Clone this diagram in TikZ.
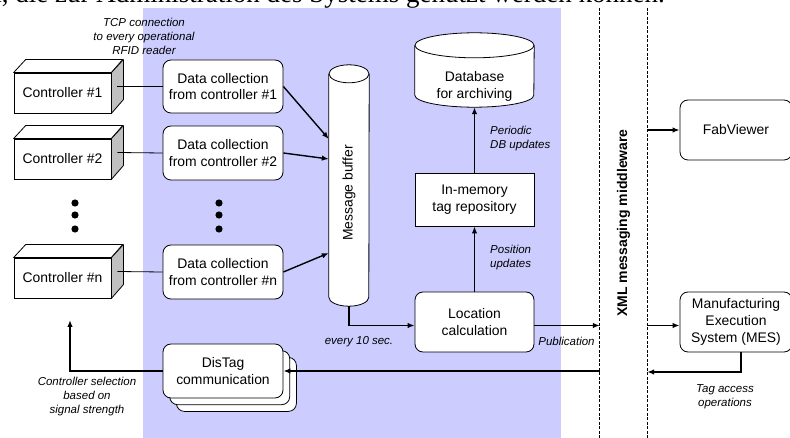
\documentclass[tikz,border=0pt]{standalone}
\usepackage{fontspec}
\setmainfont{Liberation Sans}
\newfontfamily\serifpage{Liberation Serif}
\usetikzlibrary{arrows.meta,calc}
\definecolor{lav}{RGB}{204,204,255}
\definecolor{sidegray}{RGB}{192,192,192}
\begin{document}
\begin{tikzpicture}[x=1pt,y=-1pt,
  box/.style={draw,line width=0.8pt,fill=white,align=center,inner sep=0pt,font=\fontsize{13.9}{16.8}\selectfont},
  rbox/.style={box,rounded corners=8pt},
  txt/.style={align=center,inner sep=0pt,font=\fontsize{13.9}{16.8}\selectfont},
  lbl/.style={font=\fontsize{11.5}{14}\itshape\selectfont,inner sep=0pt},
  arr/.style={line width=1.4pt,-{Latex[length=7pt,width=5.5pt]}},
  thinline/.style={line width=0.8pt},
  mwline/.style={line width=1.2pt,dash pattern=on 3pt off 1.5pt},
  face/.style={line width=0.8pt,line join=round},
]
\useasboundingbox (0,0) rectangle (790,438);
\clip (0,0) rectangle (790,438);

% cut-off line of page text
\node[anchor=base east,inner sep=0pt,font=\serifpage\fontsize{27}{30}\selectfont] (toptext) at (665,2.5) {n, die zur Administration des Systems genutzt werden können.};

% shaded region
\fill[lav] (143,8) rectangle (561,438);

% middleware band
\node[inner sep=0pt,minimum width=47pt,minimum height=430pt] (mw) at (623.5,223) {};
\draw[mwline] (mw.north west) -- (mw.south west);
\draw[mwline] (mw.north east) -- (mw.south east);
\node[rotate=90,inner sep=0pt,font=\bfseries\fontsize{14}{17}\selectfont] (mwtext) at (mw.center) {XML messaging middleware};

% controllers
\foreach \n/\lab/\y in {c1/Controller \#1/93, c2/Controller \#2/159, cn/Controller \#n/278}{
  \node[box,minimum width=97pt,minimum height=40pt] (\n) at (62.5,\y) {\lab};
  \draw[face,fill=white] (\n.north west) -- ++(12,-13) -- ++(97,0) -- (\n.north east) -- cycle;
  \draw[face,fill=sidegray] (\n.north east) -- ++(12,-13) -- ++(0,40) -- (\n.south east) -- cycle;
  \coordinate (\n s) at ($(\n.east)+(6pt,6.5pt)$);
}

% data collection boxes
\node[rbox,minimum width=120pt,minimum height=53pt] (d1) at (223,86.5) {Data collection\\from controller \#1};
\node[rbox,minimum width=120pt,minimum height=54pt] (d2) at (223,153) {Data collection\\from controller \#2};
\node[rbox,minimum width=120pt,minimum height=54pt] (dn) at (223,272) {Data collection\\from controller \#n};

% dots
\foreach \y in {203,215,229}{
  \fill (75,\y) circle[radius=3.6pt];
  \fill (219,\y) circle[radius=3.6pt];
}

% message buffer cylinder
\node[inner sep=0pt,minimum width=40pt,minimum height=241pt] (buf) at (349,185.5) {};
\path[draw,fill=white,line width=0.8pt] ([yshift=-9pt]buf.north west) -- ([yshift=9pt]buf.south west)
   arc[start angle=180,end angle=360,x radius=20pt,y radius=9pt] -- ([yshift=-9pt]buf.north east);
\draw[fill=white,line width=0.8pt] ([yshift=-9pt]buf.north) ellipse[x radius=20pt,y radius=9pt];
\node[txt,rotate=90] (buftext) at ([yshift=-7.5pt]buf.center) {Message buffer};

% database cylinder
\node[inner sep=0pt,minimum width=119pt,minimum height=74pt] (db) at (474.5,70) {};
\path[draw,fill=white,line width=0.8pt] ([yshift=-12.5pt]db.north west) -- ([yshift=12pt]db.south west)
   arc[start angle=180,end angle=360,x radius=59.5pt,y radius=12pt] -- ([yshift=-12.5pt]db.north east);
\draw[fill=white,line width=0.8pt] ([yshift=-12.5pt]db.north) ellipse[x radius=59.5pt,y radius=12.5pt];
\node[txt] (dbtext) at (474.5,86.5) {Database\\for archiving};

% in-memory, location
\node[box,minimum width=119pt,minimum height=53pt] (mem) at (474.5,199.5) {In-memory\\tag repository};
\node[rbox,minimum width=119pt,minimum height=60pt] (loc) at (474.5,322) {Location\\calculation};

% right boxes
\node[rbox,minimum width=112pt,minimum height=60pt] (fab) at (736,130) {FabViewer};
\node[rbox,minimum width=112pt,minimum height=60pt] (mes) at (736,322) {Manufacturing\\Execution\\System (MES)};

% DisTag stack
\node[rbox,minimum width=120pt,minimum height=54pt] (dis3) at (236.4,384.4) {};
\node[rbox,minimum width=120pt,minimum height=54pt] (dis2) at (229.7,377.7) {};
\node[rbox,minimum width=120pt,minimum height=54pt] (dis) at (223,371) {DisTag\\communication};

% connectors controller -> data collection
\draw[thinline] (c1s) -- (d1.west);
\draw[thinline] (c2s) -- (d2.west);
\draw[thinline] (cns) -- (dn.west);

% data collection -> buffer
\draw[arr] (d1.east) -- ([yshift=46.5pt]buf.west);
\draw[arr] (d2.east) -- ([yshift=26.5pt]buf.west);
\draw[arr] (dn.east) -- ([yshift=-67.5pt]buf.west);

% buffer -> location
\draw[arr] (buf.south) |- ([yshift=-3.5pt]loc.west);
\node[lbl] (every) at (359,342) {every 10 sec.};

% location -> memory -> database
\draw[arr] (loc.north) -- (mem.south);
\draw[arr] (mem.north) -- (db.south);
\node[lbl,align=left,anchor=west] (pos) at (490,258) {Position\\updates};
\node[lbl,align=left,anchor=west] (per) at (490,139) {Periodic\\DB updates};

% location -> middleware
\draw[arr] ([yshift=-3.5pt]loc.east) -- ([yshift=-3.5pt]loc.east -| mw.west);
\node[lbl] (pub) at (566.5,341) {Publication};

% middleware -> right boxes
\draw[arr] (mw.east |- fab.west) -- (fab.west);
\draw[arr] ([yshift=-3.5pt]mes.west -| mw.east) -- ([yshift=-3.5pt]mes.west);
\draw[arr] ([xshift=5pt]mes.south) |- ([yshift=-50pt]mes.west -| mw.east);
\node[lbl,align=center] (tag) at (725,396.5) {Tag access\\operations};

% middleware -> DisTag
\draw[arr] (dis.east -| mw.west) -- (dis.east);

% DisTag -> controller
\coordinate (selend) at (70,320);
\draw[arr] (dis.west) -| (selend);
\node[lbl,align=center] (sel) at (87,397) {Controller selection\\based on\\signal strength};

% TCP label
\node[lbl,align=center] (tcp) at (144,36) {TCP connection\\to every operational\\RFID reader};
\end{tikzpicture}
\end{document}
